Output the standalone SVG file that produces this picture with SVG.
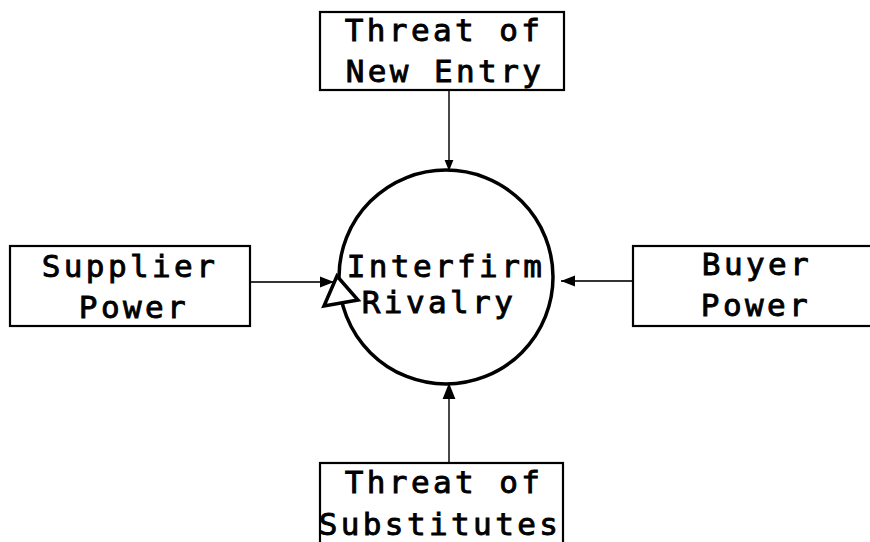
<svg xmlns="http://www.w3.org/2000/svg" width="870" height="542" viewBox="0 0 870 542">
  <style>
    .box { fill: #fff; stroke: #000; stroke-width: 2.2; }
    .lbl { font-family: "DejaVu Sans Mono", "Liberation Mono", monospace; font-size: 31px; letter-spacing: 3.4px; fill: #000; stroke: #000; stroke-width: 0.9; text-anchor: middle; }
    .conn { stroke: #333; stroke-width: 1.8; fill: none; }
  </style>
  <defs>
    <marker id="arrow" viewBox="0 0 10 10" refX="10" refY="5" markerWidth="11" markerHeight="11" markerUnits="userSpaceOnUse" orient="auto">
      <path d="M0,1 L10,5 L0,9 Z" fill="#000"/>
    </marker>
    <marker id="arrowMid" viewBox="0 0 10 10" refX="10" refY="5" markerWidth="17" markerHeight="14" markerUnits="userSpaceOnUse" orient="auto">
      <path d="M0,1 L10,5 L0,9 Z" fill="#000"/>
    </marker>
    <marker id="arrowBig" viewBox="0 0 10 10" refX="10" refY="5" markerWidth="22" markerHeight="16" markerUnits="userSpaceOnUse" orient="auto">
      <path d="M0,1 L10,5 L0,9 Z" fill="#000"/>
    </marker>
  </defs>
  <rect width="870" height="542" fill="#fff"/>

  <g id="connectors">
    <line class="conn" x1="449" y1="90" x2="449" y2="171" marker-end="url(#arrow)"/>
    <line class="conn" x1="250" y1="282" x2="334" y2="282" marker-end="url(#arrowMid)"/>
    <line class="conn" x1="633" y1="281" x2="561" y2="281" marker-end="url(#arrowMid)"/>
    <line class="conn" x1="449" y1="463" x2="449" y2="383" marker-end="url(#arrowBig)"/>
  </g>

  <g id="rivalry">
    <circle cx="446" cy="277" r="107" fill="none" stroke="#000" stroke-width="3.5"/>
    <polygon points="337,276 324,306 358,300" fill="#fff" stroke="#000" stroke-width="3.5" stroke-linejoin="miter"/>
    <text class="lbl" x="446" y="277">Interfirm</text>
    <text class="lbl" x="439" y="313">Rivalry</text>
  </g>

  <g id="new-entry">
    <rect class="box" x="320" y="12" width="244" height="78"/>
    <text class="lbl" x="444" y="41">Threat of</text>
    <text class="lbl" x="445" y="82">New Entry</text>
  </g>

  <g id="supplier">
    <rect class="box" x="10" y="246" width="240" height="80"/>
    <text class="lbl" x="130" y="277">Supplier</text>
    <text class="lbl" x="134" y="318">Power</text>
  </g>

  <g id="buyer">
    <rect class="box" x="633" y="246" width="240" height="80"/>
    <text class="lbl" x="757" y="275">Buyer</text>
    <text class="lbl" x="756" y="316">Power</text>
  </g>

  <g id="substitutes">
    <rect class="box" x="320" y="463" width="243" height="90"/>
    <text class="lbl" x="444" y="493">Threat of</text>
    <text class="lbl" x="440" y="535">Substitutes</text>
  </g>
</svg>
